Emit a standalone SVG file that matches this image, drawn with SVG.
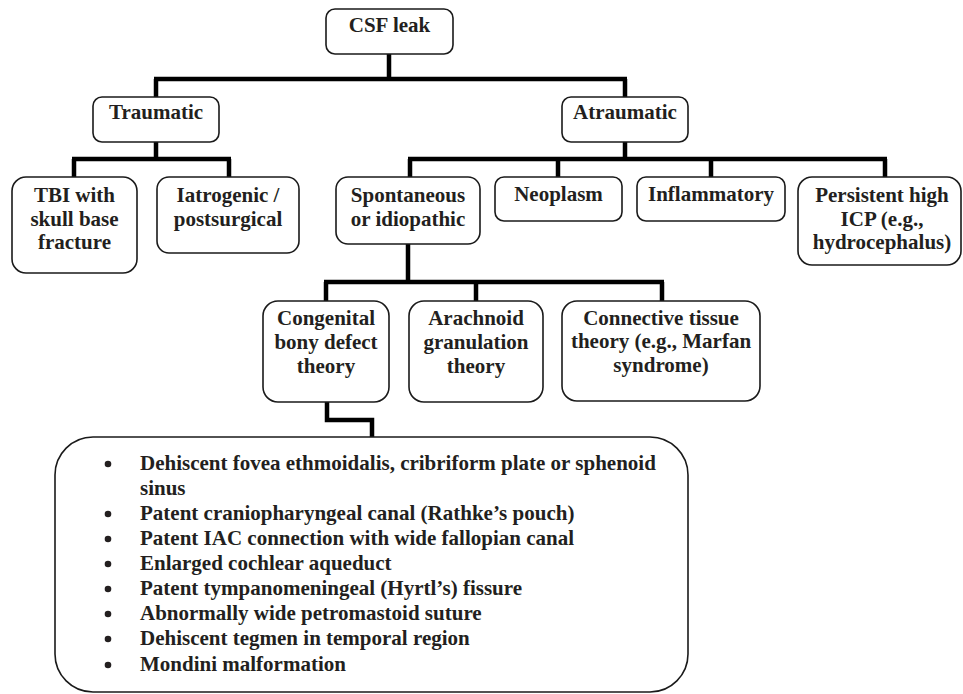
<svg xmlns="http://www.w3.org/2000/svg" width="963" height="694" viewBox="0 0 963 694">
<style>
.box{fill:#fff;stroke:#1a1a1a;stroke-width:1.6}
.t{font-family:"Liberation Serif","Times New Roman",serif;font-weight:bold;font-size:21px;fill:#231f20;text-anchor:middle}
.l{font-family:"Liberation Serif","Times New Roman",serif;font-weight:bold;font-size:21px;fill:#231f20}
.c{fill:none;stroke:#000;stroke-width:4.5;stroke-linejoin:miter;stroke-linecap:butt}
.b{fill:#231f20}
</style>
<rect width="963" height="694" fill="#fff"/>
<g id="connectors">
<path class="c" d="M389 54V79M154 79H627M156 79V97M625 79V97"/>
<path class="c" d="M156 142V159M72 159H231M74 159V177M229 159V177"/>
<path class="c" d="M625 142V159M408 159H887M410 159V177M558 159V177M711 159V177M885 159V177"/>
<path class="c" d="M408 244V282M324 282H664M326 282V301M476 282V301M662 282V301"/>
<path class="c" d="M327 402V420H372V437"/>
</g>
<g id="csf"><rect class="box" x="326" y="9" width="127" height="45" rx="9"/><text class="t" x="389.5" y="32">CSF leak</text></g>
<g id="traumatic"><rect class="box" x="93" y="97" width="126" height="45" rx="9"/><text class="t" x="156" y="119">Traumatic</text></g>
<g id="atraumatic"><rect class="box" x="562" y="97" width="126" height="45" rx="9"/><text class="t" x="625" y="119">Atraumatic</text></g>
<g id="tbi"><rect class="box" x="12" y="177" width="125" height="96" rx="14"/><text class="t" x="74.5" y="202">TBI with</text><text class="t" x="74.5" y="226">skull base</text><text class="t" x="74.5" y="249">fracture</text></g>
<g id="iatrogenic"><rect class="box" x="157" y="177" width="142" height="76" rx="12"/><text class="t" x="228" y="202">Iatrogenic /</text><text class="t" x="228" y="226">postsurgical</text></g>
<g id="spontaneous"><rect class="box" x="336" y="177" width="144" height="67" rx="12"/><text class="t" x="408" y="202">Spontaneous</text><text class="t" x="408" y="226">or idiopathic</text></g>
<g id="neoplasm"><rect class="box" x="495" y="177" width="127" height="44" rx="9"/><text class="t" x="558.5" y="201">Neoplasm</text></g>
<g id="inflammatory"><rect class="box" x="637" y="177" width="148" height="44" rx="9"/><text class="t" x="711" y="201">Inflammatory</text></g>
<g id="persistent"><rect class="box" x="798" y="177" width="163" height="88" rx="14"/><text class="t" x="882" y="202">Persistent high</text><text class="t" x="882" y="226">ICP (e.g.,</text><text class="t" x="882" y="249">hydrocephalus)</text></g>
<g id="congenital"><rect class="box" x="263" y="301" width="126" height="101" rx="15"/><text class="t" x="326" y="325">Congenital</text><text class="t" x="326" y="349">bony defect</text><text class="t" x="326" y="373">theory</text></g>
<g id="arachnoid"><rect class="box" x="409" y="301" width="134" height="101" rx="15"/><text class="t" x="476" y="325">Arachnoid</text><text class="t" x="476" y="349">granulation</text><text class="t" x="476" y="373">theory</text></g>
<g id="connective"><rect class="box" x="562" y="301" width="198" height="100" rx="15"/><text class="t" x="661" y="325">Connective tissue</text><text class="t" x="661" y="348">theory (e.g., Marfan</text><text class="t" x="661" y="372">syndrome)</text></g>
<g id="list">
<rect class="box" x="55" y="437" width="633" height="255" rx="38"/>
<circle class="b" cx="108" cy="464" r="3.3"/><text class="l" x="140" y="470">Dehiscent fovea ethmoidalis, cribriform plate or sphenoid</text>
<text class="l" x="140" y="495">sinus</text>
<circle class="b" cx="108" cy="514" r="3.3"/><text class="l" x="140" y="520">Patent craniopharyngeal canal (Rathke’s pouch)</text>
<circle class="b" cx="108" cy="539" r="3.3"/><text class="l" x="140" y="545">Patent IAC connection with wide fallopian canal</text>
<circle class="b" cx="108" cy="564" r="3.3"/><text class="l" x="140" y="570">Enlarged cochlear aqueduct</text>
<circle class="b" cx="108" cy="589" r="3.3"/><text class="l" x="140" y="595">Patent tympanomeningeal (Hyrtl’s) fissure</text>
<circle class="b" cx="108" cy="614" r="3.3"/><text class="l" x="140" y="620">Abnormally wide petromastoid suture</text>
<circle class="b" cx="108" cy="639" r="3.3"/><text class="l" x="140" y="645">Dehiscent tegmen in temporal region</text>
<circle class="b" cx="108" cy="665" r="3.3"/><text class="l" x="140" y="671">Mondini malformation</text>
</g>
</svg>
